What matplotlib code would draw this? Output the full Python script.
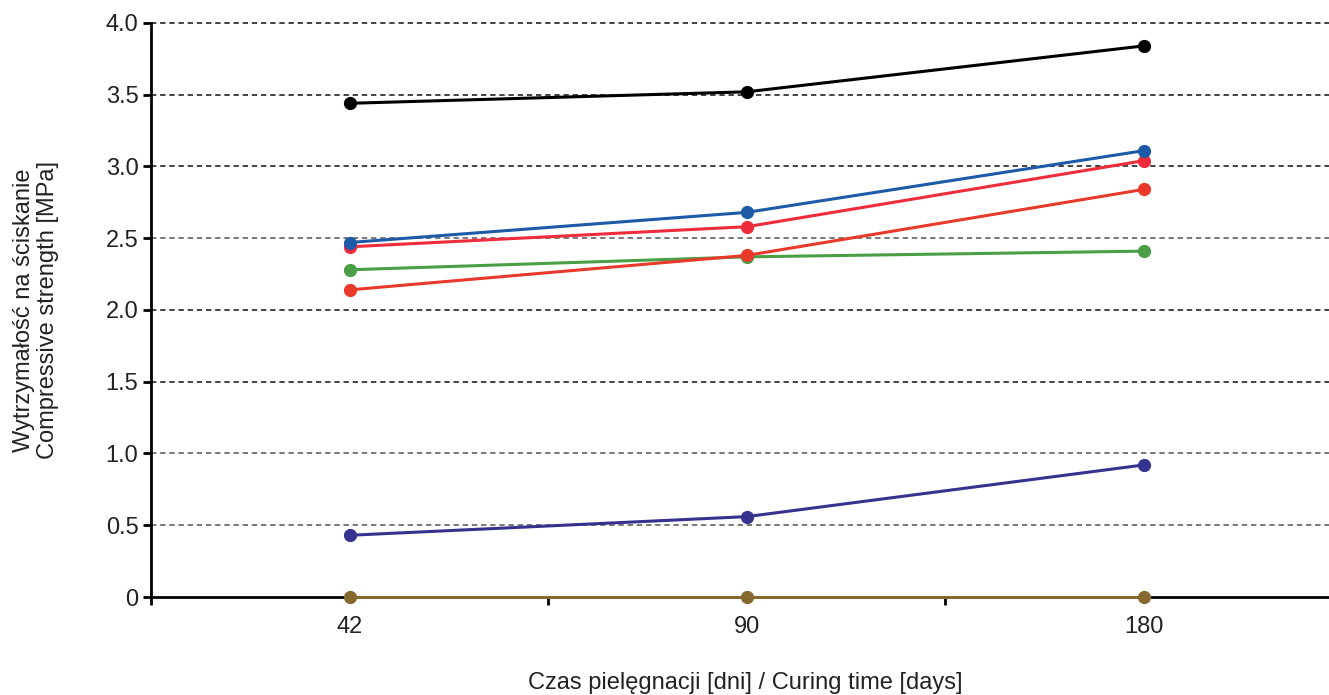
import numpy as np
import matplotlib.pyplot as plt
from matplotlib.ticker import FixedLocator

plt.rcParams['font.family'] = ['Liberation Sans', 'DejaVu Sans']

## Data ##############################################################
days = ['42', '90', '180']
s_black  = [3.44, 3.52, 3.84]
s_blue   = [2.47, 2.68, 3.11]
s_red    = [2.44, 2.58, 3.04]
s_orange = [2.14, 2.38, 2.84]
s_green  = [2.28, 2.37, 2.41]
s_purple = [0.43, 0.56, 0.92]
s_brown  = [0.0, 0.0, 0.0]
yticks = [0, 0.5, 1.0, 1.5, 2.0, 2.5, 3.0, 3.5, 4.0]
ytick_labels = ['0', '0.5', '1.0', '1.5', '2.0', '2.5', '3.0', '3.5', '4.0']
# grid shade per level (dark / gray)
grid_cols = ['none', '#555555', '#555555', '#111111', '#111111', '#555555', '#111111', '#111111', '#111111']
######################################################################

fig = plt.figure(figsize=(13.29, 6.95), dpi=100)
ax = fig.add_axes([0.1136, 0.141, 0.8864 + 0.01, 0.826])

x = np.arange(len(days))
for yv, c in zip(yticks, grid_cols):
    if c != 'none':
        ax.axhline(yv, color=c, lw=1.1, ls=(0, (3.5, 2.5)), zorder=1, clip_on=False)

series = [(s_black, '#000000'), (s_green, '#4a9e45'), (s_orange, '#e8392a'),
          (s_red, '#ee2c3c'), (s_blue, '#1d5aa8'), (s_purple, '#35338f'),
          (s_brown, '#86682f')]
for vals, col in series:
    ax.plot(x, vals, '-o', color=col, lw=2.2, ms=8.5, zorder=3, clip_on=False)

ax.set_xlim(-0.5, 2.5)
ax.set_ylim(0, 4.0)
ax.set_xticks(x)
ax.set_xticklabels(days)
ax.xaxis.set_minor_locator(FixedLocator([-0.5, 0.5, 1.5, 2.5]))
ax.tick_params(axis='x', which='major', length=0, pad=14, labelsize=17, labelcolor='#222222')
ax.tick_params(axis='x', which='minor', length=6, width=2, direction='out')
ax.set_yticks(yticks)
ax.set_yticklabels(ytick_labels)
ax.tick_params(axis='y', length=6, width=2, direction='out', labelsize=17, pad=3, labelcolor='#222222')

for s in ['top', 'right']:
    ax.spines[s].set_visible(False)
ax.spines['left'].set_linewidth(2)
ax.spines['bottom'].set_linewidth(2)

fig.text(36 / 1329, 1 - 310 / 695, 'Wytrzymałość na ściskanie\nCompressive strength [MPa]',
         rotation=90, ha='center', va='center', multialignment='center',
         fontsize=17, color='#222222', linespacing=1.15)
fig.text(745 / 1329, 1 - 683 / 695, 'Czas pielęgnacji [dni] / Curing time [days]',
         ha='center', va='center', fontsize=17, color='#222222')

plt.savefig('out.png', dpi=100)
